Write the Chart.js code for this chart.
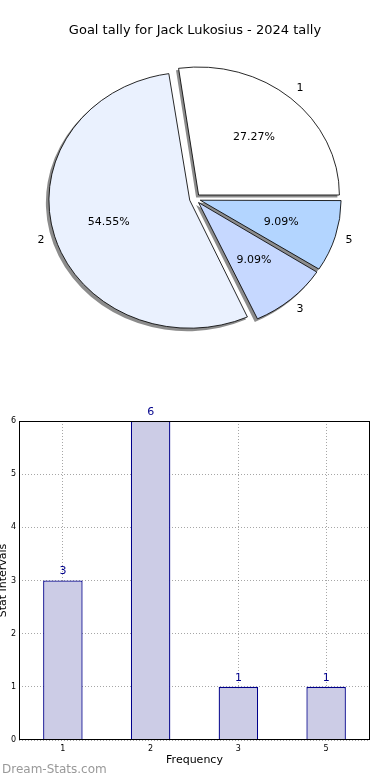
<!DOCTYPE html>
<html>
<head>
<meta charset="utf-8">
<script src="https://cdn.jsdelivr.net/npm/chart.js@4"></script>
<style>
  body { margin: 0; background: #fff; }
  .box { position: relative; width: 390px; height: 390px; }
</style>
</head>
<body>
<div class="box"><canvas id="pieChart"></canvas></div>
<div class="box"><canvas id="barChart"></canvas></div>
<script>
// data
const categories = ['1', '2', '3', '5'];
const counts = [3, 6, 1, 1];
const sliceColors = ['#ffffff', '#eaf1fe', '#c6d8ff', '#b3d5ff'];
const yTicks = [0, 1, 2, 3, 4, 5, 6];

const FONT = '"DejaVu Sans", sans-serif';
const total = counts.reduce((a, b) => a + b, 0);

// matplotlib goes counter-clockwise from 3 o'clock, chart.js clockwise -> reverse
const pieLabels = categories.slice().reverse();
const pieValues = counts.slice().reverse();
const pieColors = sliceColors.slice().reverse();

const stretchX = 1.1;  // the original pie is a bit wider than tall
const explode = 5;     // px, chart.js moves arcs by offset/4
const pieR = 128;

const piePlugin = {
    id: 'pieLook',
    afterDatasetsUpdate(chart) {
        // chart.js grows narrow exploded arcs a bit, undo that so all wedges have the same radius
        chart.getDatasetMeta(0).data.forEach(arc => {
            const c = arc.endAngle - arc.startAngle;
            arc.outerRadius = pieR - explode * (1 - Math.sin(Math.min(Math.PI, c)));
        });
    },
    beforeDatasetsDraw(chart) {
        const ctx = chart.ctx;
        const meta = chart.getDatasetMeta(0);
        const arc0 = meta.data[0];
        ctx.save();
        ctx.translate(arc0.x, arc0.y);
        ctx.scale(stretchX, 1);
        ctx.translate(-arc0.x, -arc0.y);
        // grey shadow under every wedge, down and to the left
        ctx.save();
        ctx.fillStyle = 'rgba(0,0,0,0.45)';
        meta.data.forEach(arc => {
            const p = arc.getProps(['x', 'y', 'startAngle', 'endAngle']);
            const mid = (p.startAngle + p.endAngle) / 2;
            const cx = p.x + Math.cos(mid) * explode - 2.5 / stretchX;
            const cy = p.y + Math.sin(mid) * explode + 2.5;
            ctx.beginPath();
            ctx.moveTo(cx, cy);
            ctx.arc(cx, cy, pieR + 0.5, p.startAngle, p.endAngle);
            ctx.closePath();
            ctx.fill();
        });
        ctx.restore();
    },
    afterDatasetsDraw(chart) {
        const ctx = chart.ctx;
        ctx.restore();
        const meta = chart.getDatasetMeta(0);
        ctx.save();
        ctx.fillStyle = '#000';
        ctx.font = '11px ' + FONT;
        ctx.textAlign = 'center';
        ctx.textBaseline = 'middle';
        meta.data.forEach((arc, i) => {
            const p = arc.getProps(['x', 'y', 'startAngle', 'endAngle']);
            const mid = (p.startAngle + p.endAngle) / 2;
            const cx = p.x + Math.cos(mid) * explode * stretchX;
            const cy = p.y + Math.sin(mid) * explode;
            // category name outside, percentage inside
            const lx = cx + Math.cos(mid) * pieR * 1.1 * stretchX;
            const ly = cy + Math.sin(mid) * pieR * 1.1;
            ctx.fillText(pieLabels[i], lx, ly);
            const px = cx + Math.cos(mid) * pieR * 0.6 * stretchX;
            const py = cy + Math.sin(mid) * pieR * 0.6;
            ctx.fillText((pieValues[i] / total * 100).toFixed(2) + '%', px, py);
        });
        ctx.restore();
    }
};

new Chart(document.getElementById('pieChart'), {
    type: 'pie',
    data: {
        labels: pieLabels,
        datasets: [{
            data: pieValues,
            backgroundColor: pieColors,
            borderColor: '#000',
            borderWidth: 0.8,
            offset: explode * 4
        }]
    },
    options: {
        responsive: true,
        maintainAspectRatio: false,
        animation: false,
        rotation: 90,
        radius: pieR,
        layout: { padding: { top: 0, bottom: 41, left: 0, right: 0 } },
        plugins: {
            legend: { display: false },
            tooltip: { enabled: false },
            title: {
                display: true,
                text: 'Goal tally for Jack Lukosius - 2024 tally',
                color: '#000',
                font: { family: FONT, size: 13, weight: 'normal', lineHeight: 1.2 },
                padding: { top: 23, bottom: 10 }
            }
        }
    },
    plugins: [piePlugin]
});

// bar chart: frame, value labels and watermark
const barPlugin = {
    id: 'barLook',
    afterDraw(chart) {
        const ctx = chart.ctx;
        const a = chart.chartArea;
        ctx.save();
        ctx.strokeStyle = '#000';
        ctx.lineWidth = 1;
        ctx.strokeRect(a.left + 0.5, a.top + 0.5, a.right - a.left - 1, a.bottom - a.top - 1);

        ctx.fillStyle = '#00008b';
        ctx.font = '11px ' + FONT;
        ctx.textAlign = 'center';
        ctx.textBaseline = 'middle';
        chart.getDatasetMeta(0).data.forEach((bar, i) => {
            ctx.fillText(String(counts[i]), bar.x, bar.y - 9);
        });

        ctx.fillStyle = '#999999';
        ctx.font = '12px ' + FONT;
        ctx.textAlign = 'left';
        ctx.fillText('Dream-Stats.com', 2, 380);
        ctx.restore();
    }
};

new Chart(document.getElementById('barChart'), {
    type: 'bar',
    data: {
        labels: categories,
        datasets: [{
            data: counts,
            backgroundColor: '#ccccE6',
            borderColor: '#00008b',
            borderWidth: 1.3,
            barPercentage: 0.45,
            categoryPercentage: 1
        }]
    },
    options: {
        responsive: true,
        maintainAspectRatio: false,
        animation: false,
        layout: { padding: { top: 31, right: 20, bottom: 0, left: 0 } },
        plugins: {
            legend: { display: false },
            tooltip: { enabled: false }
        },
        scales: {
            x: {
                grid: { offset: false, color: 'rgba(0,0,0,0.35)', drawTicks: false },
                border: { display: false, dash: [1, 2] },
                ticks: { color: '#000', font: { family: FONT, size: 8 }, padding: 4 },
                title: {
                    display: true,
                    text: 'Frequency',
                    color: '#000',
                    font: { family: FONT, size: 11, lineHeight: 1.2 },
                    padding: { top: 0, bottom: 13 }
                },
                afterFit(scale) { scale.height = 40; }
            },
            y: {
                min: 0,
                max: 6,
                grid: { color: 'rgba(0,0,0,0.35)', drawTicks: false },
                border: { display: false, dash: [1, 2] },
                afterBuildTicks(scale) { scale.ticks = yTicks.map(v => ({ value: v })); },
                ticks: { color: '#000', font: { family: FONT, size: 8 }, padding: 3 },
                title: {
                    display: true,
                    text: 'Stat Intervals',
                    color: '#000',
                    font: { family: FONT, size: 11, lineHeight: 1 },
                    padding: { top: -2, bottom: 0 }
                },
                afterFit(scale) { scale.width = 19; }
            }
        }
    },
    plugins: [barPlugin]
});
</script>
</body>
</html>
